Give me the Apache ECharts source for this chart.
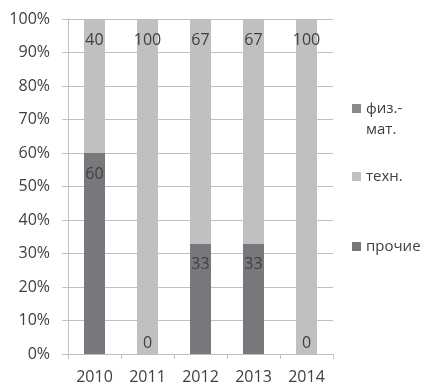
<!DOCTYPE html>
<html>
<head>
<meta charset="utf-8">
<script src="https://cdn.jsdelivr.net/npm/echarts@6/dist/echarts.min.js"></script>
<style>
  html, body { margin: 0; padding: 0; background: #fff; }
  #chart { width: 423px; height: 387px; }
</style>
</head>
<body>
<div id="chart"></div>
<script>
// Share of graduates by profile, per year (percent)
const years = ['2010', '2011', '2012', '2013', '2014'];
const fizMat = [null, null, null, null, null];
const tekhn = [40, 100, 67, 67, 100];
const prochie = [60, 0, 33, 33, 0];
const yTicks = [0, 10, 20, 30, 40, 50, 60, 70, 80, 90, 100];

const FONT = 'Open Sans';
const TEXT = '#404040';

// zero-height bars carry their label just above the baseline
function withLabels(values) {
  return values.map(v => v === 0
    ? { value: v, label: { position: 'top', distance: 3 } }
    : v);
}

const chart = echarts.init(document.getElementById('chart'), null, { renderer: 'canvas' });

const barLabel = {
  show: true,
  position: 'insideTop',
  distance: 13,
  color: TEXT,
  fontFamily: FONT,
  fontSize: 16
};

const legendBase = {
  orient: 'vertical',
  left: 347,
  itemWidth: 9,
  itemHeight: 9,
  itemGap: 0,
  icon: 'rect',
  selectedMode: false,
  textStyle: { color: TEXT, fontFamily: FONT, fontSize: 15, lineHeight: 21 }
};

chart.setOption({
  animation: false,
  backgroundColor: '#ffffff',
  grid: { left: 68, right: 90, top: 19, bottom: 33, containLabel: false },
  legend: [
    Object.assign({}, legendBase, { top: 72, data: ['физ.-мат.'], formatter: () => '\nфиз.-\nмат.' }),
    Object.assign({}, legendBase, { top: 161, data: ['техн.'] }),
    Object.assign({}, legendBase, { top: 231, data: ['прочие'] })
  ],
  xAxis: {
    type: 'category',
    data: years,
    axisLine: { show: true, lineStyle: { color: '#bfbfbf', width: 1 } },
    axisTick: { show: true, length: 5, alignWithLabel: false, lineStyle: { color: '#bfbfbf' } },
    axisLabel: { color: TEXT, fontFamily: FONT, fontSize: 16, margin: 15 },
    splitLine: { show: false }
  },
  yAxis: {
    type: 'value',
    min: yTicks[0],
    max: yTicks[yTicks.length - 1],
    interval: 10,
    axisLine: { show: true, lineStyle: { color: '#bfbfbf', width: 1 } },
    axisTick: { show: true, length: 6, lineStyle: { color: '#bfbfbf' } },
    axisLabel: { color: TEXT, fontFamily: FONT, fontSize: 16, margin: 18, formatter: '{value}%' },
    splitLine: { show: true, lineStyle: { color: '#bfbfbf', width: 1 } }
  },
  series: [
    {
      name: 'прочие',
      type: 'bar',
      stack: 'share',
      barWidth: 21,
      itemStyle: { color: '#77787b' },
      label: barLabel,
      data: withLabels(prochie)
    },
    {
      name: 'техн.',
      type: 'bar',
      stack: 'share',
      barWidth: 21,
      itemStyle: { color: '#c0c0c0' },
      label: barLabel,
      data: withLabels(tekhn)
    },
    {
      name: 'физ.-мат.',
      type: 'bar',
      stack: 'share',
      barWidth: 21,
      itemStyle: { color: '#8a8a8a' },
      label: { show: false },
      data: fizMat
    }
  ]
});
</script>
</body>
</html>
